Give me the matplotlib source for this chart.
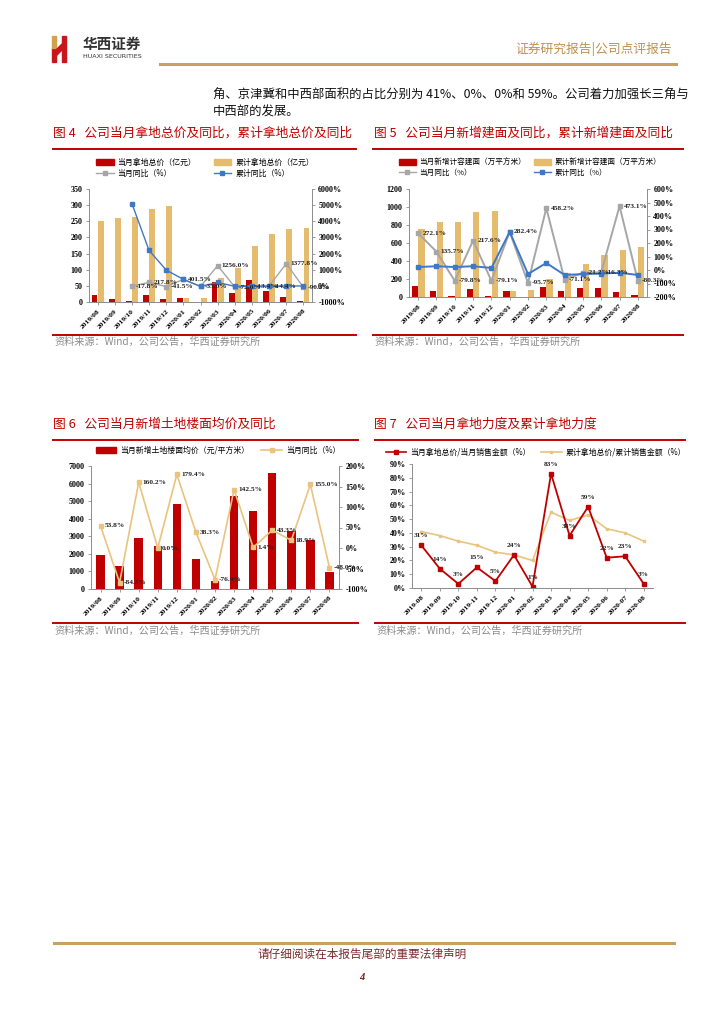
import numpy as np
import matplotlib
matplotlib.use('Agg')
from matplotlib import pyplot as plt
from matplotlib.patches import Rectangle, Polygon
from matplotlib.lines import Line2D

plt.rcParams['font.family'] = ['Liberation Serif', 'Noto Sans CJK SC', 'DejaVu Sans']
plt.rcParams['axes.unicode_minus'] = False
CJK = ['Noto Sans CJK SC', 'DejaVu Sans']

W, H = 724, 1024

RED = '#C00000'
GOLD = '#E5BC6E'
GOLD_LINE = '#E8C47E'
GRAY = '#A6A6A6'
BLUE = '#3F78C4'
AXC = '#8C8C8C'

months_slash = ['2019/08', '2019/09', '2019/10', '2019/11', '2019/12', '2020/01', '2020/02',
                '2020/03', '2020/04', '2020/05', '2020/06', '2020/07', '2020/08']
months_dash = [m.replace('/', '-') for m in months_slash]

# fig 4: land cost (100m yuan)
land_month = [22, 8, 3, 22, 10, 12, 0, 62, 28, 67, 34, 17, 3]
land_cum = [250, 260, 262, 287, 296, 12, 12, 74, 104, 174, 210, 226, 229]
land_month_yoy = [np.nan, np.nan, -17.8, 217.8, -41.5, 401.5, -35.0, 1256.0, -72.0, -13.4, -14.4, 1377.8, -90.3]
land_cum_yoy = [np.nan, np.nan, 5100, 2200, 980, 401.5, -35, 210, -30, -20, -15, -10, -5]

# fig 5: new floor area (10k sqm)
area_month = [125, 70, 10, 90, 15, 70, 0, 110, 70, 100, 100, 60, 25]
area_cum = [760, 835, 835, 940, 960, 70, 75, 195, 265, 367, 467, 525, 558]
area_month_yoy = [272.1, 135.7, -79.8, 217.6, -79.1, 282.4, -95.7, 458.2, -71.1, -21.2, -16.3, 473.1, -80.3]
area_cum_yoy = [22, 28, 22, 28, 15, 282.4, -30, 52, -37, -30, -27, -20, -37]

# fig 6: avg floor price (yuan/sqm)
price = [1950, 1330, 2920, 2420, 4850, 1700, 430, 5300, 4450, 6600, 3300, 2800, 980]
price_yoy = [53.8, -84.3, 160.2, 0.0, 179.4, 38.3, -76.9, 142.5, 1.4, 43.3, 18.9, 155.0, -48.0]

# fig 7: land cost / sales (%)
ratio_month = [31, 14, 3, 15, 5, 24, 1, 83, 38, 59, 22, 23, 3]
ratio_cum = [41, 38, 34, 31, 26, 24, 20, 55, 49, 53, 43, 40, 34]


def box(x0, y0, x1, y1):
    return [x0 / W, 1 - y1 / H, (x1 - x0) / W, (y1 - y0) / H]


def ftext(x, y, s, **kw):
    fig.text(x / W, 1 - y / H, s, **kw)


def hline(x0, x1, y, color, lw):
    fig.add_artist(Line2D([x0 / W, x1 / W], [1 - y / H, 1 - y / H], color=color, lw=lw))


def style(ax, labels):
    ax.spines['top'].set_visible(False)
    ax.spines['right'].set_visible(False)
    for s in ['left', 'bottom']:
        ax.spines[s].set_color(AXC)
        ax.spines[s].set_linewidth(0.7)
    ax.tick_params(axis='both', labelsize=5.8, length=2.5, width=0.6, color=AXC, pad=2)
    ax.set_xlim(-0.5, 12.5)
    ax.set_xticks(np.arange(13))
    ax.set_xticklabels(labels, rotation=45, ha='right', rotation_mode='anchor',
                       fontsize=5.4, fontweight='bold')
    plt.setp(ax.get_yticklabels(), fontweight='bold')


def style_right(ax2, ticks):
    for s in ['top', 'left', 'bottom']:
        ax2.spines[s].set_visible(False)
    ax2.spines['right'].set_color(AXC)
    ax2.spines['right'].set_linewidth(0.7)
    ax2.set_yticks(ticks)
    ax2.set_yticklabels(['%d%%' % t for t in ticks], fontweight='bold')
    ax2.tick_params(axis='y', labelsize=5.8, length=2.5, width=0.6, color=AXC, pad=2)


def point_labels(ax, xs, ys, texts, dx=3, dy=0, ha='left', va='center'):
    for x, y, t in zip(xs, ys, texts):
        if np.isnan(y):
            continue
        ax.annotate(t, (x, y), xytext=(dx, dy), textcoords='offset points',
                    ha=ha, va=va, fontsize=5.3, fontweight='bold', color='#222222')


fig = plt.figure(figsize=(W / 100, H / 100), dpi=100)
x = np.arange(13)

# ---------------- header ----------------
fig.add_artist(Rectangle((52 / W, 1 - 62 / H), 4 / W, 14 / H, color='#C8161D', transform=fig.transFigure))
fig.add_artist(Rectangle((52 / W, 1 - 48 / H), 4 / W, 12 / H, color='#D2A24E', transform=fig.transFigure))
fig.add_artist(Polygon([(56 / W, 1 - 50 / H), (62 / W, 1 - 44 / H), (62 / W, 1 - 50 / H), (56 / W, 1 - 56 / H)],
                       closed=True, color='#C8161D', transform=fig.transFigure))
fig.add_artist(Rectangle((62 / W, 1 - 62 / H), 4 / W, 26 / H, color='#C8161D', transform=fig.transFigure))
ftext(83, 44, '华西证券', fontsize=10.5, fontweight='bold', family=CJK, color='#333333', va='center')
ftext(83, 57, 'HUAXI SECURITIES', fontsize=4.6, family=['DejaVu Sans'], color='#333333', va='center')
ftext(672, 49, '证券研究报告|公司点评报告', fontsize=9.2, family=CJK, color='#C09050', va='center', ha='right')
hline(160, 676, 64, '#C8A063', 2.2)

ftext(213, 95, '角、京津冀和中西部面积的占比分别为 41%、0%、0%和 59%。公司着力加强长三角与',
      fontsize=8.9, family=CJK, va='center', color='#111111')
ftext(213, 112, '中西部的发展。', fontsize=8.9, family=CJK, va='center', color='#111111')

# titles and rules
ftext(53, 133, '图 4   公司当月拿地总价及同比，累计拿地总价及同比', fontsize=9.2, family=CJK, color=RED, va='center')
ftext(374, 133, '图 5   公司当月新增建面及同比，累计新增建面及同比', fontsize=9.2, family=CJK, color=RED, va='center')
ftext(53, 424, '图 6   公司当月新增土地楼面均价及同比', fontsize=9.2, family=CJK, color=RED, va='center')
ftext(374, 424, '图 7   公司当月拿地力度及累计拿地力度', fontsize=9.2, family=CJK, color=RED, va='center')
for (a, b, y) in [(53, 356, 149), (373, 683, 149), (53, 356, 335), (373, 683, 335),
                  (53, 358, 440), (375, 685, 440), (53, 358, 623), (375, 685, 623)]:
    hline(a, b, y, RED, 1.4)
for (sx, sy) in [(54, 342), (374, 342), (54, 631), (376, 631)]:
    ftext(sx, sy, '资料来源：Wind，公司公告，华西证券研究所', fontsize=7.3, family=CJK, color='#8C8C8C', va='center')

# ---------------- figure 4 ----------------
ax = fig.add_axes(box(89, 189, 312, 302))
ax.bar(x - 0.18, land_month, 0.34, color=RED)
ax.bar(x + 0.18, land_cum, 0.34, color=GOLD)
ax.set_ylim(0, 350)
ax.set_yticks(np.arange(0, 351, 50))
style(ax, months_slash)
ax2 = ax.twinx()
ax2.plot(x, land_month_yoy, color=GRAY, marker='s', ms=2.5, lw=1.0)
ax2.plot(x, land_cum_yoy, color=BLUE, marker='s', ms=2.5, lw=1.0)
ax2.set_ylim(-1000, 6000)
style_right(ax2, np.arange(-1000, 6001, 1000))
ax2.set_xlim(-0.5, 12.5)
point_labels(ax2, x, land_month_yoy, ['' if np.isnan(v) else '%.1f%%' % v for v in land_month_yoy])
h4 = [Rectangle((0, 0), 1, 1, color=RED), Line2D([], [], color=GRAY, marker='s', ms=2.5, lw=1),
      Rectangle((0, 0), 1, 1, color=GOLD), Line2D([], [], color=BLUE, marker='s', ms=2.5, lw=1)]
l4 = ['当月拿地总价（亿元）', '当月同比（%）', '累计拿地总价（亿元）', '累计同比（%）']
fig.legend(h4, l4, loc='center', bbox_to_anchor=(205 / W, 1 - 168 / H), ncol=2, frameon=False,
           prop={'family': CJK, 'size': 5.7}, handlelength=2.2, handleheight=0.8,
           columnspacing=2.2, labelspacing=0.3, handletextpad=0.5)

# ---------------- figure 5 ----------------
ax = fig.add_axes(box(409, 189, 647, 297))
ax.bar(x - 0.18, area_month, 0.34, color=RED)
ax.bar(x + 0.18, area_cum, 0.34, color=GOLD)
ax.set_ylim(0, 1200)
ax.set_yticks(np.arange(0, 1201, 200))
style(ax, months_slash)
ax2 = ax.twinx()
ax2.plot(x, area_month_yoy, color=GRAY, marker='s', ms=2.5, lw=1.4)
ax2.plot(x, area_cum_yoy, color=BLUE, marker='s', ms=3, lw=1.4)
ax2.set_ylim(-200, 600)
style_right(ax2, np.arange(-200, 601, 100))
ax2.set_xlim(-0.5, 12.5)
point_labels(ax2, x, area_month_yoy, ['%.1f%%' % v for v in area_month_yoy])
h5 = [Rectangle((0, 0), 1, 1, color=RED), Line2D([], [], color=GRAY, marker='s', ms=2.5, lw=1),
      Rectangle((0, 0), 1, 1, color=GOLD), Line2D([], [], color=BLUE, marker='s', ms=2.5, lw=1)]
l5 = ['当月新增计容建面（万平方米）', '当月同比（%）', '累计新增计容建面（万平方米）', '累计同比（%）']
fig.legend(h5, l5, loc='center', bbox_to_anchor=(530 / W, 1 - 168 / H), ncol=2, frameon=False,
           prop={'family': CJK, 'size': 5.5}, handlelength=2.2, handleheight=0.8,
           columnspacing=1.0, labelspacing=0.3, handletextpad=0.5)

# ---------------- figure 6 ----------------
ax = fig.add_axes(box(91, 466, 339, 589))
ax.bar(x, price, 0.44, color=RED)
ax.set_ylim(0, 7000)
ax.set_yticks(np.arange(0, 7001, 1000))
style(ax, months_slash)
ax2 = ax.twinx()
ax2.plot(x, price_yoy, color=GOLD_LINE, marker='s', ms=3, lw=1.2)
ax2.set_ylim(-100, 200)
style_right(ax2, np.arange(-100, 201, 50))
ax2.set_xlim(-0.5, 12.5)
point_labels(ax2, x, price_yoy, ['%.1f%%' % v for v in price_yoy])
h6 = [Rectangle((0, 0), 1, 1, color=RED), Line2D([], [], color=GOLD_LINE, marker='s', ms=3, lw=1.2)]
l6 = ['当月新增土地楼面均价（元/平方米）', '当月同比（%）']
fig.legend(h6, l6, loc='center', bbox_to_anchor=(218 / W, 1 - 450 / H), ncol=2, frameon=False,
           prop={'family': CJK, 'size': 5.7}, handlelength=2.6, handleheight=0.8,
           columnspacing=1.5, handletextpad=0.5)

# ---------------- figure 7 ----------------
ax = fig.add_axes(box(412, 464, 653, 588))
ax.plot(x, ratio_cum, color=GOLD_LINE, marker='s', ms=2, lw=1.2)
ax.plot(x, ratio_month, color=RED, marker='s', ms=3.2, lw=1.3)
ax.set_ylim(0, 90)
ax.set_yticks(np.arange(0, 91, 10))
ax.set_yticklabels(['%d%%' % t for t in np.arange(0, 91, 10)])
style(ax, months_dash)
point_labels(ax, x, ratio_month, ['%d%%' % v for v in ratio_month], dx=0, dy=5, ha='center', va='bottom')
h7 = [Line2D([], [], color=RED, marker='s', ms=3, lw=1.2), Line2D([], [], color=GOLD_LINE, marker='s', ms=2, lw=1.2)]
l7 = ['当月拿地总价/当月销售金额（%）', '累计拿地总价/累计销售金额（%）']
fig.legend(h7, l7, loc='center', bbox_to_anchor=(536 / W, 1 - 452 / H), ncol=2, frameon=False,
           prop={'family': CJK, 'size': 5.7}, handlelength=2.6,
           columnspacing=1.3, handletextpad=0.5)

# ---------------- footer ----------------
hline(54, 674, 943, '#C8A063', 2.2)
ftext(362, 954, '请仔细阅读在本报告尾部的重要法律声明', fontsize=8.4, family=CJK, color='#7A2A2A', ha='center', va='center')
ftext(362, 978, '4', fontsize=7.5, fontweight='bold', style='italic', color='#7A1A1A', ha='center', va='center')

fig.savefig('out.png', dpi=100)
